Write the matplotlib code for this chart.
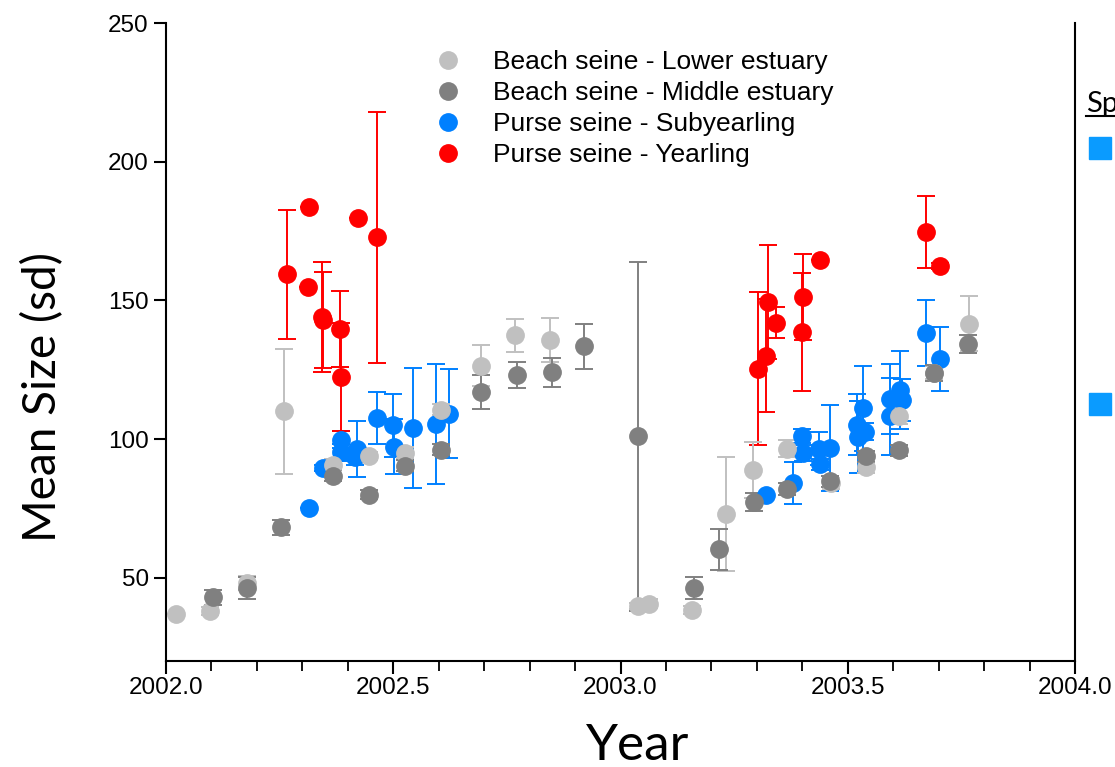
import matplotlib.pyplot as plt
from matplotlib.lines import Line2D
from matplotlib.patches import Rectangle
from matplotlib.ticker import MultipleLocator

# Beach seine - Lower estuary
lower_x = [2002.022, 2002.097, 2002.178, 2002.260, 2002.367, 2002.447, 2002.526, 2002.605,
           2002.693, 2002.768, 2002.845, 2003.038, 2003.063, 2003.157, 2003.232, 2003.292,
           2003.366, 2003.463, 2003.540, 2003.613, 2003.690, 2003.767]
lower_y = [37.0, 38.0, 48.0, 110.0, 90.8, 94.0, 95.1, 110.6, 126.5, 137.4, 135.8, 39.9,
           40.7, 38.5, 73.1, 88.9, 96.6, 84.0, 89.8, 108.5, 124.0, 141.6]
lower_sd = [0, 1.5, 2.5, 22.5, 2, 1.5, 2, 2, 7.5, 6, 8, 1, 1.5, 1.5, 20.5, 10, 3, 2, 2, 3, 2.5, 10]

# Beach seine - Middle estuary
middle_x = [2002.103, 2002.178, 2002.253, 2002.367, 2002.447, 2002.526, 2002.605, 2002.693,
            2002.772, 2002.849, 2002.920, 2003.038, 2003.162, 2003.216, 2003.294, 2003.366,
            2003.462, 2003.540, 2003.613, 2003.690, 2003.765]
middle_y = [42.9, 46.4, 68.2, 86.8, 80.0, 90.4, 96.2, 117.0, 123.2, 124.1, 133.4, 101.0,
            46.3, 60.2, 77.4, 82.0, 84.8, 93.8, 95.9, 123.8, 134.4]
middle_sd = [2.8, 4, 2.7, 2, 1.5, 2, 2, 6, 4.7, 5.3, 8, 63, 4, 7.3, 3.2, 2, 2, 2, 2, 3, 3.3]

# Purse seine - Subyearling
sub_x = [2002.315, 2002.345, 2002.384, 2002.386, 2002.416, 2002.421, 2002.464, 2002.499,
         2002.502, 2002.544, 2002.594, 2002.623, 2003.320, 2003.379, 2003.399, 2003.402,
         2003.437, 2003.440, 2003.462, 2003.520, 2003.523, 2003.534, 2003.538, 2003.593,
         2003.593, 2003.616, 2003.619, 2003.672, 2003.703]
sub_y = [75.0, 89.6, 99.8, 95.2, 93.5, 96.5, 107.5, 104.9, 97.3, 104.0, 105.5, 109.1,
         80.0, 84.2, 101.1, 95.0, 96.5, 91.0, 96.8, 105.2, 100.9, 111.1, 102.7, 114.3,
         108.2, 117.8, 114.1, 138.3, 129.0]
sub_sd = [0, 1, 3, 3, 3, 10, 9.3, 11.2, 10, 21.5, 21.7, 16, 0, 7.5, 2.5, 3, 6, 2, 15.4,
          11, 13, 15.4, 3, 12.6, 14, 14, 7.7, 12, 11.5]

# Purse seine - Yearling
year_x = [2002.266, 2002.312, 2002.315, 2002.343, 2002.346, 2002.383, 2002.386, 2002.422,
          2002.464, 2003.303, 2003.320, 2003.325, 2003.342, 2003.400, 2003.402, 2003.440,
          2003.673, 2003.703]
year_y = [159.4, 154.8, 183.7, 144.0, 143.0, 139.8, 122.3, 179.7, 172.8, 125.3, 130.1,
          149.4, 142.0, 138.6, 151.2, 164.7, 174.7, 162.3]
year_sd = [23.3, 0, 0, 19.8, 17.2, 13.7, 19.5, 0, 45.2, 27.6, 20.4, 20.6, 5.6, 21.4, 15.5,
           0, 13.1, 1]

labels = ["Beach seine - Lower estuary", "Beach seine - Middle estuary",
          "Purse seine - Subyearling", "Purse seine - Yearling"]
colors = ["#c0c0c0", "#808080", "#0080ff", "#ff0000"]

plt.rcParams['font.family'] = ['Liberation Sans', 'DejaVu Sans']

fig = plt.figure(figsize=(11.15, 7.67), dpi=100)
ax = fig.add_axes([166 / 1115, 1 - 661 / 767, 909 / 1115, 638 / 767])

series = [
    (sub_x, sub_y, sub_sd, colors[2]),
    (year_x, year_y, year_sd, colors[3]),
    (lower_x, lower_y, lower_sd, colors[0]),
    (middle_x, middle_y, middle_sd, colors[1]),
]
for xs, ys, sds, c in series:
    ax.errorbar(xs, ys, yerr=sds, fmt='o', color=c, ecolor=c, markersize=12.5,
                markeredgecolor=c, elinewidth=1.4, capsize=6.5, capthick=1.4)

ax.set_xlim(2002.0, 2004.0)
ax.set_ylim(20, 250)
ax.set_xticks([2002.0, 2002.5, 2003.0, 2003.5, 2004.0])
ax.set_xticklabels(["2002.0", "2002.5", "2003.0", "2003.5", "2004.0"])
ax.xaxis.set_minor_locator(MultipleLocator(0.1))
ax.set_yticks([50, 100, 150, 200, 250])
ax.tick_params(axis='both', which='major', labelsize=17.5, width=1.5, length=9, direction='out')
ax.tick_params(axis='x', which='major', pad=2.5)
ax.tick_params(axis='x', which='minor', width=1.3, length=7, direction='out')
ax.spines['top'].set_visible(False)
for s in ['left', 'bottom', 'right']:
    ax.spines[s].set_linewidth(1.5)

lab_font = ['Lato', 'DejaVu Sans']
ax.set_ylabel("Mean Size (sd)", fontsize=33, family=lab_font)
ax.yaxis.set_label_coords(-0.112, 0.414)
ax.set_xlabel("Year", fontsize=37, family=lab_font)
ax.xaxis.set_label_coords(0.519, -0.097)

handles = [Line2D([], [], marker='o', linestyle='', color=c, markersize=12.5)
           for c in colors]
ax.legend(handles, labels, loc='upper left', bbox_to_anchor=(422 / 1115, 1 - 50 / 767),
          bbox_transform=fig.transFigure, frameon=False, fontsize=19,
          handlelength=2.0, handletextpad=0.7, labelspacing=0.27, borderpad=0,
          borderaxespad=0)

# partial panel on the right edge
fig.text(1086 / 1115, 1 - 112 / 767, "Sp", fontsize=21, family=lab_font)
fig.add_artist(Line2D([1086 / 1115, 1.0], [1 - 116 / 767, 1 - 116 / 767],
                      color='black', linewidth=1.5, transform=fig.transFigure))
for top in [137, 393]:
    fig.add_artist(Rectangle((1089 / 1115, 1 - (top + 22) / 767), 22 / 1115, 22 / 767,
                             color='#0a9bff', transform=fig.transFigure))

fig.savefig("out.png", dpi=100)
